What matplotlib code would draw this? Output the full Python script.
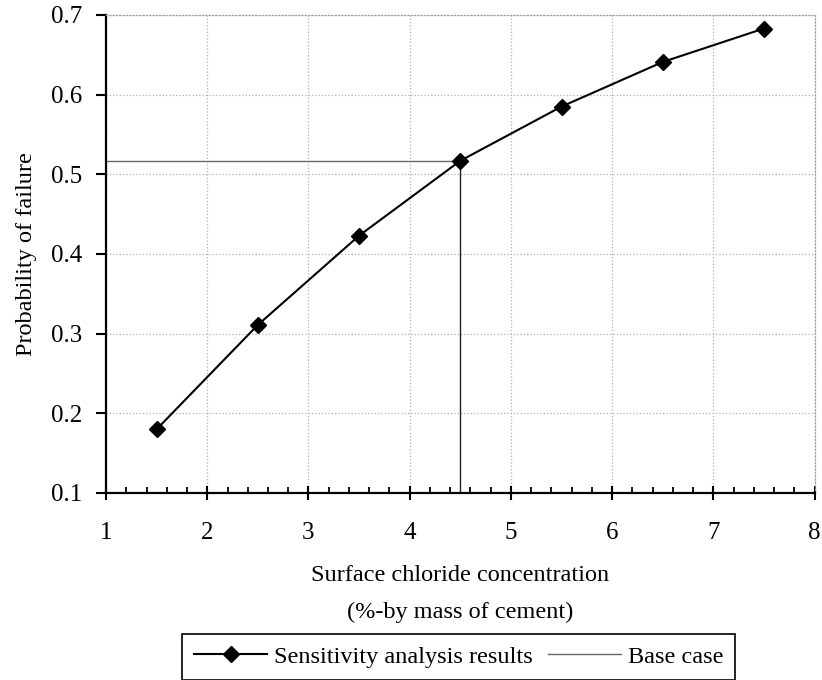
import matplotlib
matplotlib.use("Agg")
import matplotlib.pyplot as plt
from matplotlib.ticker import MultipleLocator

# surface chloride concentration vs probability of failure
chloride = [1.5, 2.5, 3.5, 4.5, 5.5, 6.5, 7.5]
pf = [0.180, 0.311, 0.423, 0.517, 0.585, 0.641, 0.683]
base_x = 4.5
base_y = 0.517

plt.rcParams['font.family'] = ['Liberation Serif', 'DejaVu Serif']
plt.rcParams['font.size'] = 17.5

fig = plt.figure(figsize=(8.22, 6.8), dpi=100)
ax = fig.add_axes([0.129, 0.275, 0.862, 0.703])

ax.plot(chloride, pf, color='black', lw=1.5, marker='D', markersize=8,
        label='Sensitivity analysis results', zorder=3)
# base case guide lines
ax.plot([1, base_x], [base_y, base_y], color='#666666', lw=1, label='Base case', zorder=2)
ax.plot([base_x, base_x], [0.1, base_y], color='#222222', lw=1, zorder=2)

ax.set_xlim(1, 8)
ax.set_ylim(0.1, 0.7)
ax.xaxis.set_major_locator(MultipleLocator(1))
ax.xaxis.set_minor_locator(MultipleLocator(0.2))
ax.yaxis.set_major_locator(MultipleLocator(0.1))
ax.yaxis.set_major_formatter(plt.FuncFormatter(lambda v, p: f"{v:.1f}"))

ax.grid(True, which='major', color='#b0b0b0', linestyle=':', lw=0.9)
ax.tick_params(axis='both', labelsize=18)
ax.tick_params(axis='x', which='major', direction='inout', length=10, width=1.5, pad=16)
ax.tick_params(axis='x', which='minor', direction='in', length=4, width=1.3)
ax.tick_params(axis='y', which='major', direction='out', length=7, width=1.5, pad=10)

for s in ['left', 'bottom']:
    ax.spines[s].set_linewidth(1.6)
    ax.spines[s].set_color('black')
for s in ['top', 'right']:
    ax.spines[s].set_color('#a0a0a0')
    ax.spines[s].set_linestyle(':')
    ax.spines[s].set_linewidth(0.9)

ax.set_xlabel('Surface chloride concentration\n(%-by mass of cement)', linespacing=1.95, labelpad=15)
ax.set_ylabel('Probability of failure', labelpad=10)

leg = fig.legend(loc='center', bbox_to_anchor=(0.558, 0.034), ncol=2, fancybox=False,
                 edgecolor='black', framealpha=1, handlelength=3.0, columnspacing=0.6,
                 handletextpad=0.3, borderpad=0.5)
leg.get_frame().set_linewidth(1.2)

fig.savefig('out.png', dpi=100)
